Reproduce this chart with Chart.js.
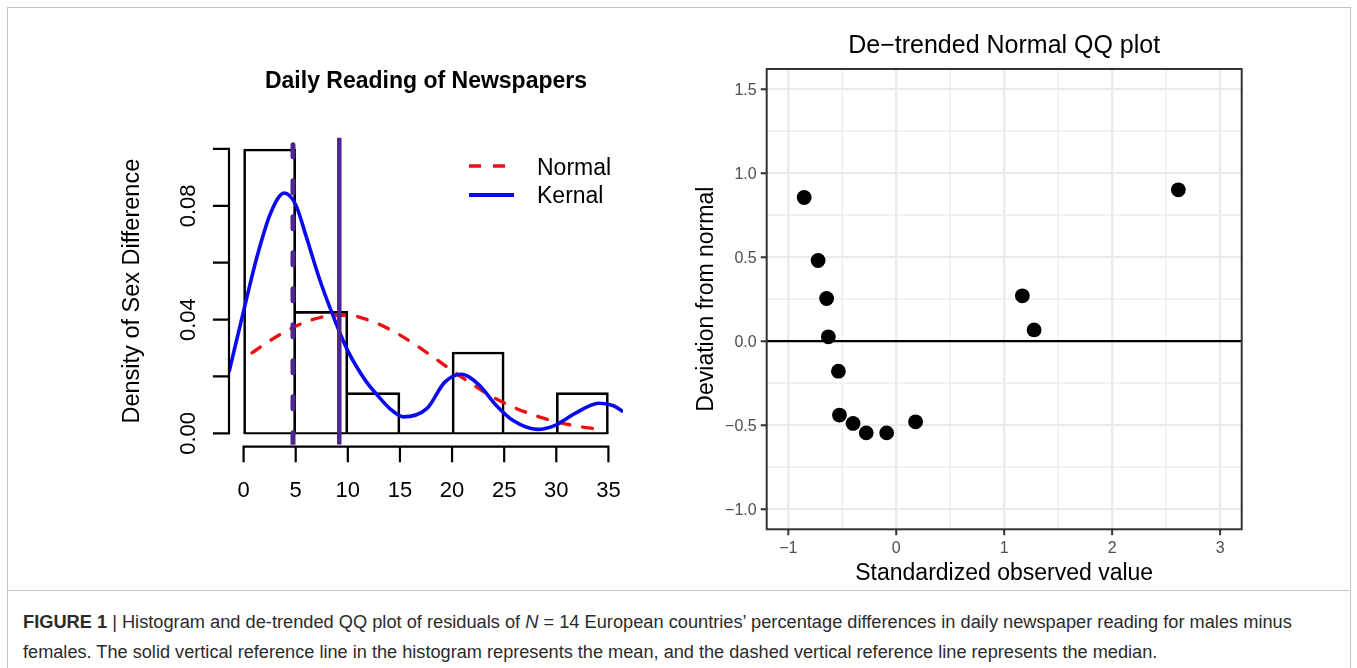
<!DOCTYPE html>
<html><head><meta charset="utf-8">
<script src="https://cdn.jsdelivr.net/npm/chart.js@4.4.1/dist/chart.umd.min.js"></script>
<style>
html,body{margin:0;padding:0;background:#fff;}
body{width:1357px;height:668px;position:relative;overflow:hidden;font-family:"Liberation Sans",Arial,sans-serif;}
#frame{position:absolute;left:7px;top:7px;width:1342px;height:720px;border:1px solid #c4c4c4;}
#sep{position:absolute;left:7px;top:590px;width:1344px;height:1px;background:#c4c4c4;}
#c1{position:absolute;left:0;top:0;}
#c2{position:absolute;left:680px;top:0;}
.cap{position:absolute;left:23px;white-space:nowrap;font-family:"Liberation Sans Narrow","Liberation Sans",sans-serif;font-size:18px;line-height:20px;color:#2b2b2b;transform-origin:0 0;}
</style></head>
<body>
<div id="frame"></div>
<div id="sep"></div>
<canvas id="c1" width="680" height="590"></canvas>
<canvas id="c2" width="677" height="590"></canvas>
<div class="cap" id="cap1" style="top:612px"><b>FIGURE 1</b> | Histogram and de-trended QQ plot of residuals of <i>N</i> = 14 European countries’ percentage differences in daily newspaper reading for males minus</div>
<div class="cap" id="cap2" style="top:642px">females. The solid vertical reference line in the histogram represents the mean, and the dashed vertical reference line represents the median.</div>
<script>
// ---------- Left: histogram data ----------
const histTitle = "Daily Reading of Newspapers";
const histYTitle = "Density of Sex Difference";
const histBinStart = [0, 5, 10, 15, 20, 25, 30];
const histBinEnd   = [5, 10, 15, 20, 25, 30, 35];
const histDensity  = [0.100, 0.0429, 0.0143, 0, 0.0286, 0, 0.0143];
const histMean = 9.18;
const histMedian = 4.74;
const histXRange = [-1.4, 36.4];
const histYRange = [-0.004, 0.104];
const histXTicks = [0, 5, 10, 15, 20, 25, 30, 35];
const histYTicks = [0, 0.02, 0.04, 0.06, 0.08, 0.10];
const histYTickLabels = [0, 0.04, 0.08];
const normalX = [0.8, 2, 4, 6, 8, 10, 12, 14, 16, 18, 20, 22, 24, 26, 28, 30, 32, 34];
const normalY = [0.0283, 0.0313, 0.0358, 0.0392, 0.0412, 0.0415, 0.0398, 0.0366, 0.0323, 0.0273, 0.0221, 0.0171, 0.0126, 0.0090, 0.0062, 0.0041, 0.0025, 0.0015];
const kernelX = [-1.4, 0, 1.3, 2.6, 3.9, 5, 6, 7.3, 8.6, 10, 11.8, 12.7, 14, 15.3, 17.6, 19.3, 20.9, 22.6, 24.2, 25.9, 28.2, 30, 31.8, 34.1, 35.5, 36.4];
const kernelY = [0.0215, 0.0430, 0.0623, 0.0775, 0.0845, 0.0804, 0.0693, 0.0541, 0.0412, 0.0290, 0.0180, 0.0140, 0.0088, 0.0058, 0.0088, 0.0180, 0.0208, 0.0170, 0.0100, 0.0044, 0.0014, 0.0030, 0.0070, 0.0106, 0.0097, 0.0076];
const legendLabels = ["Normal", "Kernal"];

// ---------- Right: de-trended QQ data ----------
const qqTitle = "De\u2212trended Normal QQ plot";
const qqXTitle = "Standardized observed value";
const qqYTitle = "Deviation from normal";
const qqX = [-0.853, -0.724, -0.645, -0.629, -0.536, -0.526, -0.400, -0.278, -0.089, 0.179, 1.168, 1.277, 2.613];
const qqY = [0.855, 0.480, 0.254, 0.026, -0.179, -0.440, -0.490, -0.546, -0.546, -0.480, 0.270, 0.067, 0.901];
const qqXRange = [-1.2, 3.2];
const qqYRange = [-1.12, 1.62];
const qqXTicks = [-1, 0, 1, 2, 3];
const qqXMinor = [-0.5, 0.5, 1.5, 2.5];
const qqYTicks = [-1, -0.5, 0, 0.5, 1, 1.5];
const qqYMinor = [-0.75, -0.25, 0.25, 0.75, 1.25];
const qqRefY = 0;

const FONT = '"Liberation Sans", Arial, sans-serif';
const fmtMinus = s => s.replace('-', '\u2212');

// ---------- Left chart ----------
const histPlugin = {
  id: 'histAxes',
  afterDraw(chart) {
    const ctx = chart.ctx, xs = chart.scales.x, ys = chart.scales.y, a = chart.chartArea;
    ctx.save();
    ctx.fillStyle = '#000'; ctx.strokeStyle = '#000';
    ctx.font = 'bold 23px ' + FONT;
    ctx.textAlign = 'center'; ctx.textBaseline = 'alphabetic';
    ctx.fillText(histTitle, (a.left + a.right) / 2, 88.3);
    // y axis
    ctx.lineWidth = 2.2; ctx.lineCap = 'square';
    ctx.beginPath();
    ctx.moveTo(a.left, ys.getPixelForValue(histYTicks[0]));
    ctx.lineTo(a.left, ys.getPixelForValue(histYTicks[histYTicks.length - 1]));
    for (const t of histYTicks) { const p = ys.getPixelForValue(t); ctx.moveTo(a.left, p); ctx.lineTo(a.left - 15, p); }
    ctx.stroke();
    ctx.font = '22px ' + FONT;
    for (const t of histYTickLabels) {
      const p = ys.getPixelForValue(t);
      ctx.save(); ctx.translate(195, p); ctx.rotate(-Math.PI / 2);
      ctx.textAlign = 'center'; ctx.fillText(t.toFixed(2), 0, 0); ctx.restore();
    }
    // x axis
    const xa = a.bottom + 2;
    ctx.beginPath();
    ctx.moveTo(xs.getPixelForValue(histXTicks[0]), xa);
    ctx.lineTo(xs.getPixelForValue(histXTicks[histXTicks.length - 1]), xa);
    for (const t of histXTicks) { const p = xs.getPixelForValue(t); ctx.moveTo(p, xa); ctx.lineTo(p, xa + 14.5); }
    ctx.stroke();
    ctx.textAlign = 'center';
    for (const t of histXTicks) ctx.fillText(String(t), xs.getPixelForValue(t), 496.7);
    // y title
    ctx.font = '23.5px ' + FONT;
    ctx.save(); ctx.translate(139, (a.top + a.bottom) / 2); ctx.rotate(-Math.PI / 2);
    ctx.textAlign = 'center'; ctx.fillText(histYTitle, 0, 0); ctx.restore();
    // legend
    const ds = chart.data.datasets;
    const nrm = ds.find(d => d.label === legendLabels[0]);
    const krn = ds.find(d => d.label === legendLabels[1]);
    ctx.lineCap = 'butt';
    ctx.strokeStyle = nrm.borderColor; ctx.lineWidth = 3.5; ctx.setLineDash([12, 12]);
    ctx.beginPath(); ctx.moveTo(469, 166); ctx.lineTo(515, 166); ctx.stroke();
    ctx.setLineDash([]);
    ctx.strokeStyle = krn.borderColor; ctx.lineWidth = 3.8;
    ctx.beginPath(); ctx.moveTo(469, 195); ctx.lineTo(514, 195); ctx.stroke();
    ctx.font = '23px ' + FONT; ctx.textAlign = 'left'; ctx.fillStyle = '#000';
    ctx.fillText(legendLabels[0], 537, 175);
    ctx.fillText(legendLabels[1], 537, 203.3);
    ctx.restore();
  }
};

// each shared bar edge is drawn once, by the taller neighbour
const barBorder = (ctx) => {
  const i = ctx.dataIndex;
  const h = histDensity[i];
  const prev = i > 0 ? histDensity[i - 1] : 0;
  const next = i + 1 < histDensity.length ? histDensity[i + 1] : 0;
  return { left: (h > prev) ? 2 : 0, top: 2, bottom: 0, right: (h >= next) ? 2 : 0 };
};

new Chart(document.getElementById('c1'), {
  type: 'bar',
  data: {
    datasets: [
      { type: 'line', label: 'mean', order: 0,
        data: [{ x: histMean, y: histYRange[0] }, { x: histMean, y: histYRange[1] }],
        borderColor: '#4F2590', borderWidth: 4.5, pointRadius: 0, fill: false },
      { type: 'line', label: 'median', order: 1,
        data: [{ x: histMedian, y: histYRange[0] }, { x: histMedian, y: histYRange[1] }],
        borderColor: '#4F2590', borderWidth: 5, borderDash: [12, 24], borderCapStyle: 'round', pointRadius: 0, fill: false },
      { type: 'line', label: legendLabels[1], order: 2,
        data: kernelX.map((x, i) => ({ x, y: kernelY[i] })),
        borderColor: '#0A0AF0', borderWidth: 3.6, pointRadius: 0, tension: 0.4, cubicInterpolationMode: 'monotone', fill: false },
      { type: 'line', label: legendLabels[0], order: 3,
        data: normalX.map((x, i) => ({ x, y: normalY[i] })),
        borderColor: '#EE1111', borderWidth: 3.4, borderDash: [10, 13], borderCapStyle: 'round', pointRadius: 0, tension: 0.4, cubicInterpolationMode: 'monotone', fill: false },
      { type: 'bar', label: 'hist', order: 4,
        data: histBinStart.map((s, i) => ({ x: (s + histBinEnd[i]) / 2, y: histDensity[i] })),
        backgroundColor: 'rgba(255,255,255,0)', borderColor: '#000', borderWidth: barBorder, borderSkipped: false,
        barPercentage: 1, categoryPercentage: 1 },
      { type: 'line', label: 'baseline', order: 5,
        data: [{ x: histBinStart[0], y: 0 }, { x: histBinEnd[histBinEnd.length - 1], y: 0 }],
        borderColor: '#000', borderWidth: 2, pointRadius: 0, fill: false }
    ]
  },
  options: {
    responsive: false, animation: false, devicePixelRatio: 1,
    layout: { padding: { left: 229, top: 137.6, right: 57, bottom: 145.3 } },
    plugins: { legend: { display: false }, tooltip: { enabled: false } },
    scales: {
      x: { type: 'linear', display: false, offset: false, min: histXRange[0], max: histXRange[1] },
      y: { type: 'linear', display: false, min: histYRange[0], max: histYRange[1] }
    }
  },
  plugins: [histPlugin]
});

// ---------- Right chart ----------
const qqPlugin = {
  id: 'qqAxes',
  beforeDatasetsDraw(chart) {
    const ctx = chart.ctx, xs = chart.scales.x, ys = chart.scales.y, a = chart.chartArea;
    ctx.save();
    ctx.strokeStyle = '#EBEBEB';
    ctx.lineWidth = 1.2;
    ctx.beginPath();
    for (const t of qqXMinor) { const p = xs.getPixelForValue(t); ctx.moveTo(p, a.top); ctx.lineTo(p, a.bottom); }
    for (const t of qqYMinor) { const p = ys.getPixelForValue(t); ctx.moveTo(a.left, p); ctx.lineTo(a.right, p); }
    ctx.stroke();
    ctx.lineWidth = 2.4;
    ctx.beginPath();
    for (const t of qqXTicks) { const p = xs.getPixelForValue(t); ctx.moveTo(p, a.top); ctx.lineTo(p, a.bottom); }
    for (const t of qqYTicks) { const p = ys.getPixelForValue(t); ctx.moveTo(a.left, p); ctx.lineTo(a.right, p); }
    ctx.stroke();
    ctx.restore();
  },
  afterDraw(chart) {
    const ctx = chart.ctx, xs = chart.scales.x, ys = chart.scales.y, a = chart.chartArea;
    ctx.save();
    ctx.strokeStyle = '#333333'; ctx.lineWidth = 2;
    ctx.strokeRect(a.left, a.top, a.right - a.left, a.bottom - a.top);
    ctx.beginPath();
    for (const t of qqYTicks) { const p = ys.getPixelForValue(t); ctx.moveTo(a.left - 6, p); ctx.lineTo(a.left, p); }
    for (const t of qqXTicks) { const p = xs.getPixelForValue(t); ctx.moveTo(p, a.bottom); ctx.lineTo(p, a.bottom + 6); }
    ctx.stroke();
    ctx.fillStyle = '#4D4D4D';
    ctx.font = '16px ' + FONT;
    ctx.textAlign = 'right'; ctx.textBaseline = 'middle';
    for (const t of qqYTicks) ctx.fillText(fmtMinus(t.toFixed(1)), a.left - 10, ys.getPixelForValue(t) + 1);
    ctx.textAlign = 'center'; ctx.textBaseline = 'alphabetic';
    for (const t of qqXTicks) ctx.fillText(fmtMinus(String(t)), xs.getPixelForValue(t), 553);
    ctx.fillStyle = '#000';
    ctx.font = '23px ' + FONT;
    ctx.fillText(qqXTitle, (a.left + a.right) / 2, 580);
    ctx.save(); ctx.translate(33, (a.top + a.bottom) / 2); ctx.rotate(-Math.PI / 2);
    ctx.fillText(qqYTitle, 0, 0); ctx.restore();
    ctx.font = '25px ' + FONT;
    ctx.fillText(qqTitle, (a.left + a.right) / 2, 53);
    ctx.restore();
  }
};

new Chart(document.getElementById('c2'), {
  type: 'scatter',
  data: {
    datasets: [
      { type: 'scatter', label: 'qq', order: 0,
        data: qqX.map((x, i) => ({ x, y: qqY[i] })),
        backgroundColor: '#000', borderColor: '#000', pointRadius: 7.4, borderWidth: 0 },
      { type: 'line', label: 'ref', order: 1,
        data: [{ x: qqXRange[0], y: qqRefY }, { x: qqXRange[1], y: qqRefY }],
        borderColor: '#000', borderWidth: 2.3, pointRadius: 0, fill: false }
    ]
  },
  options: {
    responsive: false, animation: false, devicePixelRatio: 1,
    layout: { padding: { left: 86.7, top: 69, right: 115.3, bottom: 60.7 } },
    plugins: { legend: { display: false }, tooltip: { enabled: false } },
    scales: {
      x: { type: 'linear', display: false, min: qqXRange[0], max: qqXRange[1] },
      y: { type: 'linear', display: false, min: qqYRange[0], max: qqYRange[1] }
    }
  },
  plugins: [qqPlugin]
});

// ---------- caption width fit ----------
function fitCap(id, target) {
  const el = document.getElementById(id);
  const w = el.scrollWidth;
  if (w > 0) el.style.transform = 'scaleX(' + (target / w) + ')';
}
fitCap('cap1', 1269);
fitCap('cap2', 1134);
</script>
</body></html>
